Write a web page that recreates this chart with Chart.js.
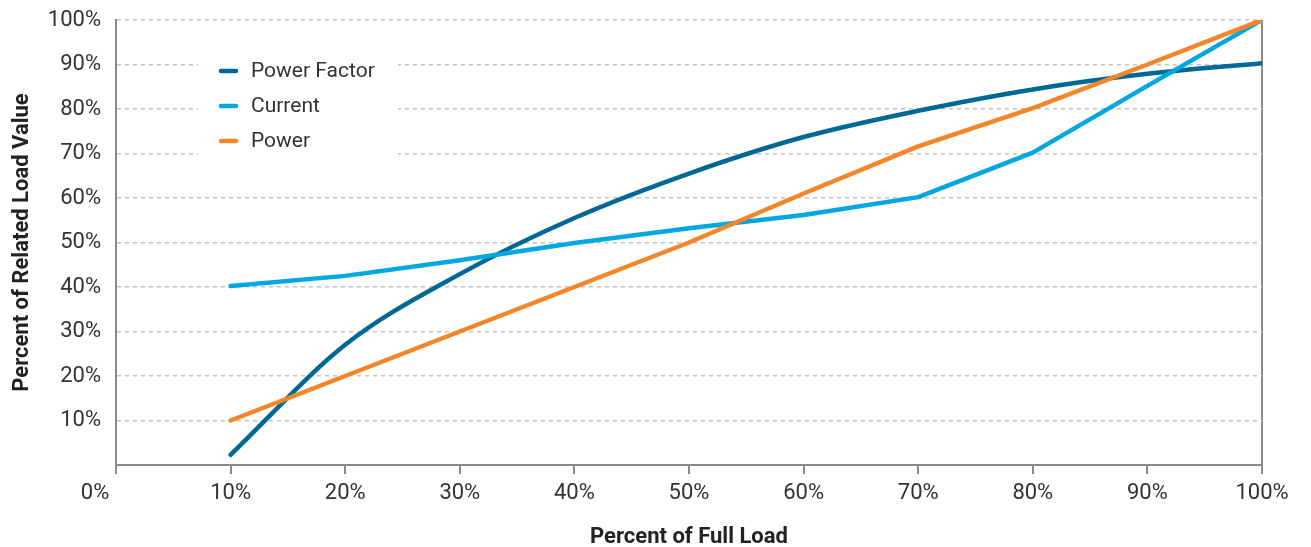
<!DOCTYPE html>
<html lang="en">
<head>
  <meta charset="UTF-8">
  <title>Percent of Related Load Value</title>
  <script src="https://cdn.jsdelivr.net/npm/chart.js"></script>
  <style>
    html, body { margin: 0; padding: 0; background: #fff; }
    .wrap { position: relative; width: 1311px; height: 547px; }
  </style>
</head>
<body>
  <div class="wrap"><canvas id="grafico-carga"></canvas></div>

  <script>
    // valores (percentual da carga total)
    const loadSteps = [10, 20, 30, 40, 50, 60, 70, 80, 90, 100];
    const powerFactor = [2.3, 27, 42.9, 55.5, 65.5, 73.7, 79.6, 84.4, 87.9, 90.3];
    const current = [40.2, 42.5, 46, 49.9, 53.2, 56.2, 60.2, 70.2, 85.2, 100];
    const power = [10, 20, 30, 40, 50, 61, 71.6, 80.2, 90, 100];
    const xTicks = [0, 10, 20, 30, 40, 50, 60, 70, 80, 90, 100];
    const yTicks = [0, 10, 20, 30, 40, 50, 60, 70, 80, 90, 100];

    const axisGray = '#8a8a8a';
    const textGray = '#333333';
    const fonte = 'Roboto';

    const pontos = vals => loadSteps.map((x, i) => ({ x: x, y: vals[i] }));

    // "0%" fica deslocado à esquerda da origem
    const zeroLabel = {
      id: 'zeroLabel',
      afterDraw(chart) {
        const xs = chart.scales.x;
        const ctx = chart.ctx;
        ctx.save();
        ctx.font = `22px ${fonte}`;
        ctx.fillStyle = textGray;
        ctx.textAlign = 'center';
        ctx.textBaseline = 'middle';
        ctx.fillText('0%', xs.getPixelForValue(0) - 21, xs.top + 28);
        ctx.restore();
      }
    };

    // legenda dentro da área do gráfico, com fundo branco
    const legendaInterna = {
      id: 'legendaInterna',
      afterDatasetsDraw(chart) {
        const ctx = chart.ctx;
        const a = chart.chartArea;
        const x0 = a.left + 82;
        ctx.save();
        ctx.fillStyle = '#ffffff';
        ctx.fillRect(x0, a.top + 24, 200, 118);
        ctx.font = `21px ${fonte}`;
        ctx.textBaseline = 'middle';
        chart.data.datasets.forEach((ds, i) => {
          const y = a.top + 51 + i * 35;
          ctx.strokeStyle = ds.borderColor;
          ctx.lineWidth = 4.5;
          ctx.lineCap = 'round';
          ctx.beginPath();
          ctx.moveTo(x0 + 23, y);
          ctx.lineTo(x0 + 38, y);
          ctx.stroke();
          ctx.fillStyle = textGray;
          ctx.fillText(ds.label, x0 + 53, y + 1);
        });
        ctx.restore();
      }
    };

    const linha = (label, vals, cor, ordem, suave) => ({
      label: label,
      data: pontos(vals),
      borderColor: cor,
      backgroundColor: cor,
      borderWidth: 4.5,
      borderCapStyle: 'round',
      borderJoinStyle: 'round',
      pointRadius: 0,
      pointHoverRadius: 0,
      fill: false,
      order: ordem,
      cubicInterpolationMode: suave ? 'monotone' : 'default',
      tension: 0
    });

    new Chart(document.getElementById('grafico-carga'), {
      type: 'line',
      data: {
        datasets: [
          linha('Power Factor', powerFactor, '#006894', 3, true),
          linha('Current', current, '#00a7e1', 2, false),
          linha('Power', power, '#f4862a', 1, false)
        ]
      },
      options: {
        responsive: true,
        maintainAspectRatio: false,
        animation: false,
        layout: { padding: { top: 20, right: 49, bottom: 0, left: 0 } },
        plugins: {
          legend: { display: false },
          tooltip: { enabled: false }
        },
        scales: {
          x: {
            type: 'linear',
            min: 0,
            max: 100,
            afterFit: s => { s.height = 82; },
            afterBuildTicks: s => { s.ticks = xTicks.map(v => ({ value: v })); },
            ticks: {
              callback: v => v === 0 ? '' : v + '%',
              font: { family: fonte, size: 22 },
              color: textGray,
              padding: 6,
              maxRotation: 0,
              autoSkip: false
            },
            grid: {
              color: c => c.tick && c.tick.value === 100 ? axisGray : 'transparent',
              lineWidth: 2,
              tickColor: axisGray,
              tickLength: 9,
              tickWidth: 2
            },
            border: { color: axisGray, width: 2 },
            title: {
              display: true,
              text: 'Percent of Full Load',
              font: { family: fonte, size: 22, weight: 'bold' },
              color: '#222',
              padding: { top: 0, bottom: -4 }
            }
          },
          y: {
            min: 0,
            max: 100,
            afterFit: s => { s.width = 116; s.paddingTop = 0; s.paddingBottom = 0; },
            afterBuildTicks: s => { s.ticks = yTicks.map(v => ({ value: v })); },
            ticks: {
              callback: v => v === 0 ? '' : v + '%',
              font: { family: fonte, size: 22 },
              color: textGray,
              padding: 15
            },
            grid: {
              color: c => c.tick && c.tick.value === 0 ? 'transparent' : '#c4c4c4',
              lineWidth: 1.5,
              drawTicks: false
            },
            border: { color: axisGray, width: 2, dash: [4, 4] },
            title: {
              display: true,
              text: 'Percent of Related Load Value',
              font: { family: fonte, size: 22, weight: 'bold' },
              color: '#222',
              padding: { top: 9, bottom: 0 }
            }
          }
        }
      },
      plugins: [zeroLabel, legendaInterna]
    });
  </script>
</body>
</html>
